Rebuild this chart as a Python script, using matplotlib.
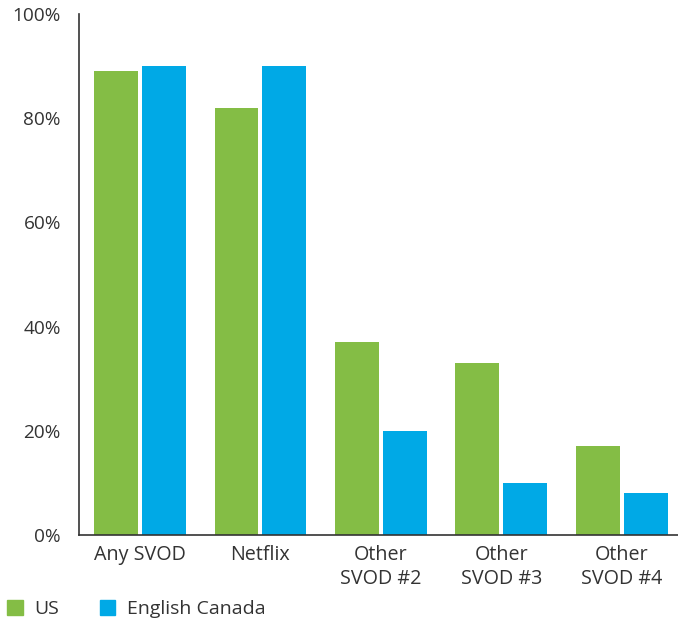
import numpy as np
import matplotlib
matplotlib.use("Agg")
import matplotlib.pyplot as plt
from matplotlib.patches import Patch

plt.rcParams.update({
    "font.family": ["Open Sans", "DejaVu Sans"],
    "text.color": "#333333",
    "xtick.color": "#333333",
    "ytick.color": "#333333",
})

categories = ["Any SVOD", "Netflix", "Other\nSVOD #2", "Other\nSVOD #3", "Other\nSVOD #4"]
us = [89, 82, 37, 33, 17]
canada = [90, 90, 20, 10, 8]
series_names = ["US", "English Canada"]
GREEN = "#84bd45"
BLUE = "#00a9e6"

fig = plt.figure(figsize=(6.78, 6.21), dpi=100)
ax = fig.add_axes([79 / 678, 1 - 535 / 621, 1 - 79 / 678, (535 - 14) / 621])

x = np.arange(len(categories))
w = 0.365
off = 0.199
ax.bar(x - off, us, w, color=GREEN)
ax.bar(x + off, canada, w, color=BLUE)

ax.set_xlim(-0.506, 4.465)
ax.set_ylim(0, 100)
ax.set_yticks(np.arange(0, 101, 20))
ax.set_yticklabels([f"{v}%" for v in range(0, 101, 20)], fontsize=13.7)
ax.set_xticks(x)
ax.set_xticklabels(categories, fontsize=14.2, linespacing=1.3)
ax.tick_params(axis="both", length=0)
ax.tick_params(axis="y", pad=13)
ax.tick_params(axis="x", pad=7)

for s in ["top", "right"]:
    ax.spines[s].set_visible(False)
for s in ["left", "bottom"]:
    ax.spines[s].set_color("#333333")
    ax.spines[s].set_linewidth(1.2)

handles = [Patch(color=GREEN), Patch(color=BLUE)]
fig.legend(handles, series_names, loc="center left", bbox_to_anchor=(7 / 678, 1 - 609 / 621),
           ncol=2, frameon=False, fontsize=14, handlelength=0.8, handleheight=0.8,
           handletextpad=0.6, columnspacing=2.1, borderaxespad=0, borderpad=0)

fig.savefig("out.png", dpi=100)
